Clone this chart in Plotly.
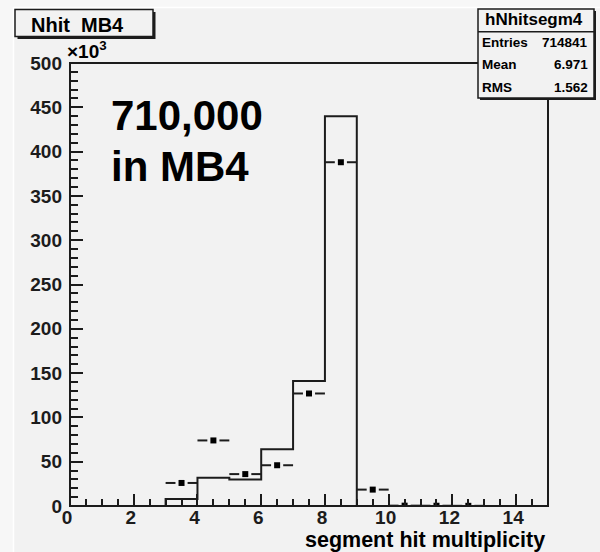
import plotly.graph_objects as go

# Histogram drawn as a step outline (counts in thousands, unit-wide bins)
line_bin_low = [3, 4, 5, 6, 7, 8]
line_counts = [8, 32, 30, 64, 141, 440]

# hNhitsegm4 drawn as markers with horizontal bin-width bars (counts in thousands)
point_centers = [3.5, 4.5, 5.5, 6.5, 7.5, 8.5, 9.5, 10.5, 11.5, 12.5]
point_counts = [26, 74, 36, 46, 127, 388, 18.5, 0.4, 0.3, 0.2]

x_tick_vals = [0, 2, 4, 6, 8, 10, 12, 14]
y_tick_vals = [0, 50, 100, 150, 200, 250, 300, 350, 400, 450, 500]
x_minor_step = 0.5
y_minor_step = 10

stats_title = "hNhitsegm4"
stats_rows = [("Entries", "714841"), ("Mean", "6.971"), ("RMS", "1.562")]
hist_title = "Nhit  MB4"
x_title = "segment hit multiplicity"
note_lines = ["710,000", "in MB4"]

BIN_W = 1.0
X_RANGE = [0, 15]
Y_RANGE = [0, 500]
W, H = 600, 552
ML, MR, MT, MB = 70, 52, 63, 46
PW, PH = W - ML - MR, H - MT - MB
FONT = "Liberation Sans, Arial, Helvetica, sans-serif"
INK = "#1c1c1c"
BG = "#f2f2f2"


def px(xp):
    return (xp - ML) / PW


def py(yp):
    return (H - MB - yp) / PH


fig = go.Figure()

# step outline
step_x = [line_bin_low[0]] + line_bin_low + [line_bin_low[-1] + BIN_W]
step_y = [0] + line_counts + [0]
fig.add_trace(go.Scatter(
    x=step_x, y=step_y, mode="lines", line_shape="hv",
    line=dict(color=INK, width=2), hoverinfo="skip", showlegend=False,
))

# horizontal bars with a gap around each marker
gap = 0.19
bx, by = [], []
for c, v in zip(point_centers, point_counts):
    bx += [c - BIN_W / 2, c - gap, None, c + gap, c + BIN_W / 2, None]
    by += [v, v, None, v, v, None]
fig.add_trace(go.Scatter(
    x=bx, y=by, mode="lines", line=dict(color=INK, width=2),
    hoverinfo="skip", showlegend=False,
))
# markers live on the overlay axes (same ranges) that carry the minor ticks
fig.add_trace(go.Scatter(
    x=point_centers, y=point_counts, mode="markers", xaxis="x2", yaxis="y2",
    marker=dict(symbol="square", size=6, color="#000000"),
    showlegend=False,
))

tickfont = dict(family=FONT, size=19, color=INK, weight="bold")
common = dict(showgrid=False, zeroline=False, showline=False, automargin=False,
              ticks="inside", tickwidth=2, tickcolor=INK)

fig.update_layout(
    xaxis=dict(range=X_RANGE, tickmode="array", tickvals=x_tick_vals, ticklen=12,
               tickfont=tickfont, ticklabelstandoff=-2, ticklabelshift=-3, **common),
    yaxis=dict(range=Y_RANGE, tickmode="array", tickvals=y_tick_vals, ticklen=13,
               tickfont=tickfont, ticklabelstandoff=7, **common),
    xaxis2=dict(range=X_RANGE, overlaying="x", anchor="y2", side="bottom",
                tickmode="linear", tick0=X_RANGE[0], dtick=x_minor_step, ticklen=7,
                showticklabels=False, **common),
    yaxis2=dict(range=Y_RANGE, overlaying="y", anchor="x2", side="left",
                tickmode="linear", tick0=Y_RANGE[0], dtick=y_minor_step, ticklen=8,
                showticklabels=False, **common),
)

shapes = []
# lighter outer band and thin white rim around the canvas
shapes.append(dict(type="rect", xref="paper", yref="paper",
                   x0=px(0), x1=px(13), y0=py(0), y1=py(H),
                   fillcolor="#f7f7f7", line=dict(width=0)))
shapes.append(dict(type="rect", xref="paper", yref="paper",
                   x0=px(0), x1=px(W), y0=py(0), y1=py(7),
                   fillcolor="#f7f7f7", line=dict(width=0)))
shapes.append(dict(type="line", xref="paper", yref="paper",
                   x0=px(13.5), x1=px(13.5), y0=py(7), y1=py(H),
                   line=dict(color="#ffffff", width=1.5)))
shapes.append(dict(type="line", xref="paper", yref="paper",
                   x0=px(13.5), x1=px(W), y0=py(7.5), y1=py(7.5),
                   line=dict(color="#ffffff", width=1.5)))
# frame around the plotting area
shapes.append(dict(type="rect", xref="paper", yref="paper",
                   x0=0, x1=1, y0=0, y1=1, line=dict(color=INK, width=2)))


def pave(x0, y0, x1, y1, shadow=2.5):
    shapes.append(dict(type="rect", xref="paper", yref="paper",
                       x0=px(x0 + shadow), x1=px(x1 + shadow), y0=py(y0 + shadow), y1=py(y1 + shadow),
                       fillcolor=INK, line=dict(width=0)))
    shapes.append(dict(type="rect", xref="paper", yref="paper",
                       x0=px(x0), x1=px(x1), y0=py(y0), y1=py(y1),
                       fillcolor=BG, line=dict(color=INK, width=1.5)))


# title pave
pave(15, 9.5, 153, 36.5)
# statistics pave
pave(478, 9, 594, 98, shadow=2)
shapes.append(dict(type="line", xref="paper", yref="paper",
                   x0=px(478), x1=px(594), y0=py(31.7), y1=py(31.7),
                   line=dict(color=INK, width=1.5)))

ann = []


def text(s, x, y, size, xanchor="center", family=FONT):
    ann.append(dict(text=s, x=px(x), y=py(y), xref="paper", yref="paper",
                    xanchor=xanchor, yanchor="middle", showarrow=False,
                    font=dict(family=family, size=size, color="#000000", weight="bold")))


text(hist_title, 77.5, 24.5, 20)
text(stats_title, 534, 20, 17)
row_y = [42.8, 64.2, 87.5]
for (lab, val), yy in zip(stats_rows, row_y):
    text(lab, 480, yy, 13.5, xanchor="left")
    text(val, 590, yy, 13.5, xanchor="right")

text("×10<sup>3</sup>", 65, 50, 19, xanchor="left")
text(x_title, 547, 540, 21.5, xanchor="right")
text(note_lines[0], 109, 115, 42, xanchor="left")
text(note_lines[1], 109, 166, 42, xanchor="left")

fig.update_layout(
    template="none",
    width=W, height=H,
    margin=dict(l=ML, r=MR, t=MT, b=MB, pad=0),
    paper_bgcolor=BG, plot_bgcolor=BG,
    shapes=shapes, annotations=ann, showlegend=False,
    font=dict(family=FONT),
)

fig.write_html("out.html")
